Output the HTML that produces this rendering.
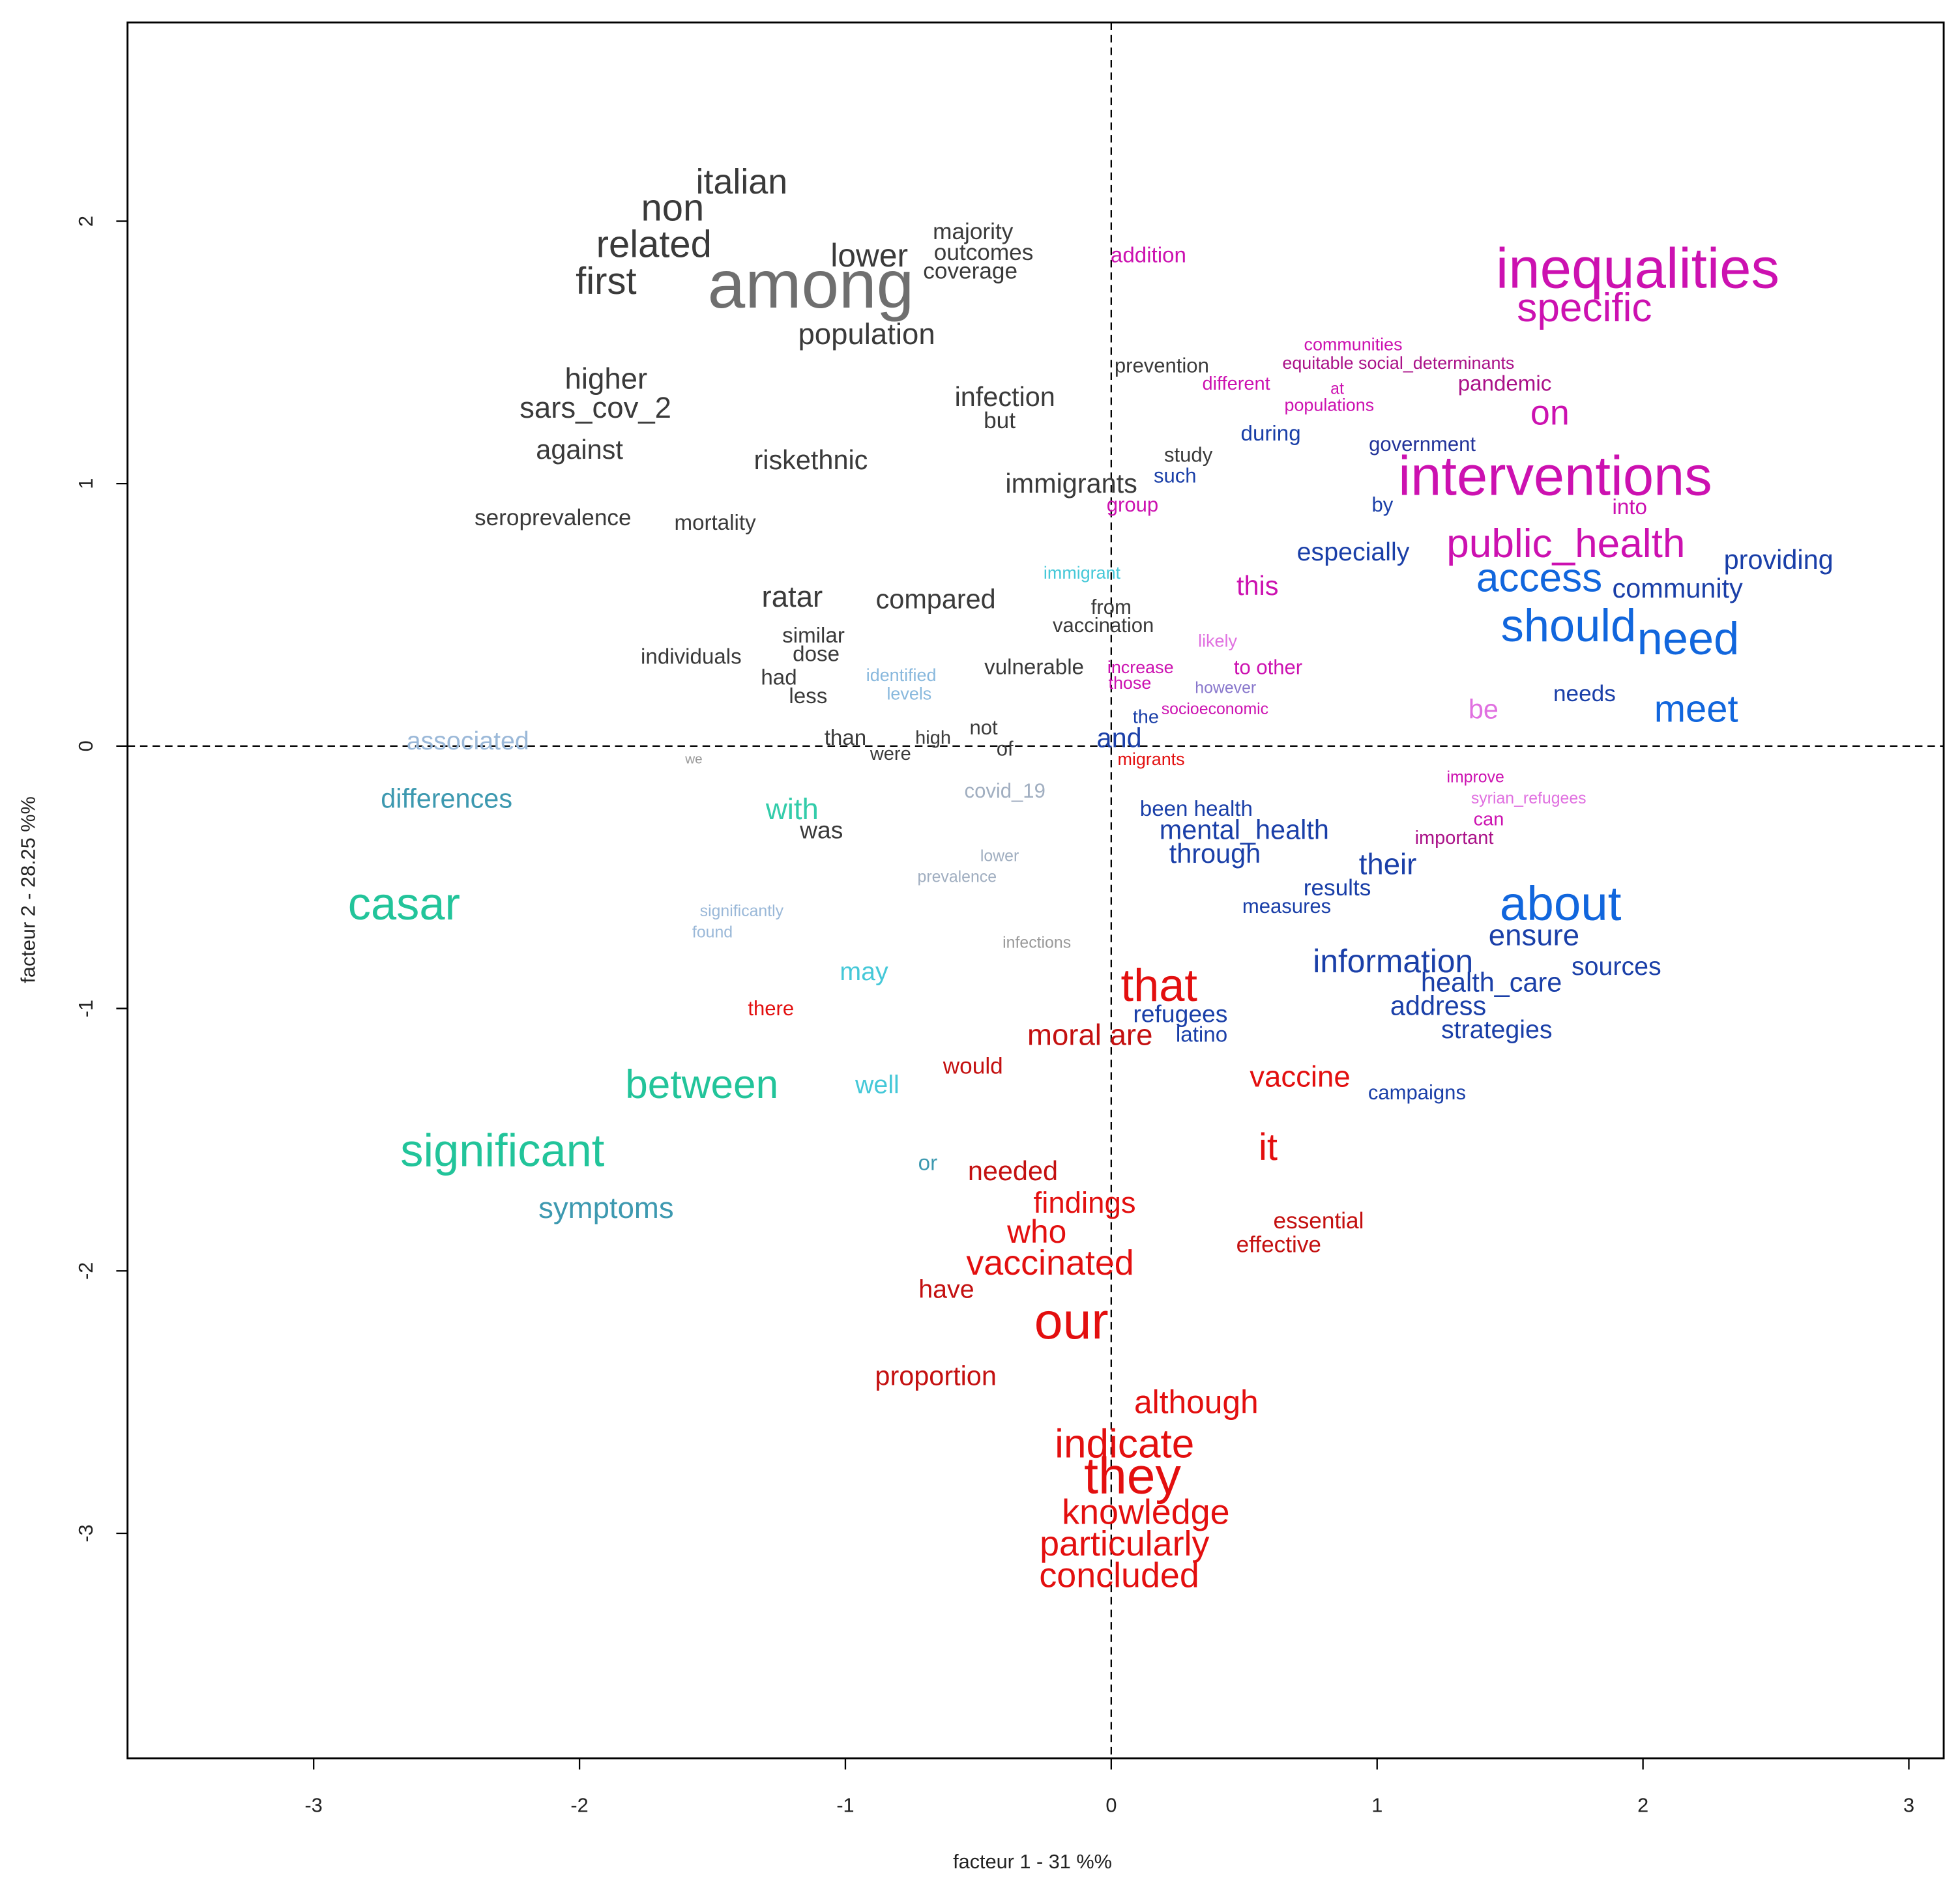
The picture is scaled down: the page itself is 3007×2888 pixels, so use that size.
<!DOCTYPE html>
<html><head><meta charset="utf-8">
<style>
html,body{margin:0;padding:0;background:#fff;}
svg{display:block;font-family:"Liberation Sans",Arial,sans-serif;}
</style></head>
<body>
<svg id="chart" width="3007" height="2888" viewBox="0 0 1568 1506" xmlns="http://www.w3.org/2000/svg">
<rect x="102" y="18" width="1453" height="1389" fill="#fff" stroke="#000" stroke-width="1.5"/>
<g id="axes"></g>
<g id="marks"></g>
<text x="826" y="1495" font-size="16" text-anchor="middle" fill="#222">facteur  1  - 31 %%</text>
<text x="28" y="712" font-size="16" text-anchor="middle" fill="#222" transform="rotate(-90 28 712)">facteur  2  - 28.25 %%</text>
</svg>
<script>
const words = ["italian","non","related","first","among","lower","majority","outcomes","coverage","population","higher","sars_cov_2","against","infection","but","riskethnic","prevention","study","immigrants","seroprevalence","mortality","ratar","compared","similar","dose","individuals","had","less","vulnerable","from","vaccination","than","high","not","were","of","was","we",
"addition","inequalities","specific","communities","equitable social_determinants","different","at","pandemic","populations","on","interventions","into","group","public_health","this","likely","to other","increase","those","however","socioeconomic","be","improve","syrian_refugees","can","important",
"during","government","such","by","especially","providing","access","community","should","need","needs","meet","the","and","been health","mental_health","through","their","results","measures","about","ensure","information","sources","health_care","refugees","address","latino","strategies","campaigns",
"migrants","that","moral are","there","would","vaccine","it","needed","findings","who","essential","effective","vaccinated","have","our","proportion","although","indicate","they","knowledge","particularly","concluded",
"immigrant","identified","levels","associated","differences","with","covid_19","lower","prevalence","significantly","found","casar","may","infections","between","well","significant","or","symptoms"];
const xVals = [-1.39,-1.65,-1.72,-1.90,-1.13,-0.91,-0.52,-0.48,-0.53,-0.92,-1.90,-1.94,-2.00,-0.40,-0.42,-1.13,0.19,0.29,-0.15,-2.10,-1.49,-1.20,-0.66,-1.12,-1.11,-1.58,-1.25,-1.14,-0.29,0.00,-0.03,-1.00,-0.67,-0.48,-0.83,-0.40,-1.09,-1.57,
0.14,1.98,1.78,0.91,1.08,0.47,0.85,1.48,0.82,1.65,1.67,1.95,0.08,1.71,0.55,0.40,0.59,0.11,0.07,0.43,0.39,1.40,1.37,1.57,1.42,1.29,
0.60,1.17,0.24,1.02,0.91,2.51,1.61,2.13,1.72,2.17,1.78,2.20,0.13,0.03,0.32,0.50,0.39,1.04,0.85,0.66,1.69,1.59,1.06,1.90,1.43,0.26,1.23,0.34,1.45,1.15,
0.15,0.18,-0.08,-1.28,-0.52,0.71,0.59,-0.37,-0.10,-0.28,0.78,0.63,-0.23,-0.62,-0.15,-0.66,0.32,0.05,0.08,0.13,0.05,0.03,
-0.11,-0.79,-0.76,-2.42,-2.50,-1.20,-0.40,-0.42,-0.58,-1.39,-1.50,-2.66,-0.93,-0.28,-1.54,-0.88,-2.29,-0.69,-1.90];
const yVals = [2.15,2.05,1.91,1.77,1.76,1.87,1.96,1.88,1.81,1.57,1.40,1.29,1.13,1.33,1.24,1.09,1.45,1.11,1.00,0.87,0.85,0.57,0.56,0.42,0.35,0.34,0.26,0.19,0.30,0.53,0.46,0.03,0.03,0.07,-0.03,-0.01,-0.32,-0.05,
1.87,1.82,1.67,1.53,1.46,1.38,1.36,1.38,1.30,1.27,1.03,0.91,0.92,0.77,0.61,0.40,0.30,0.30,0.24,0.22,0.14,0.14,-0.12,-0.20,-0.28,-0.35,
1.19,1.15,1.03,0.92,0.74,0.71,0.64,0.60,0.46,0.41,0.20,0.14,0.11,0.03,-0.24,-0.32,-0.41,-0.45,-0.54,-0.61,-0.60,-0.72,-0.82,-0.84,-0.90,-1.02,-0.99,-1.10,-1.08,-1.32,
-0.05,-0.91,-1.10,-1.00,-1.22,-1.26,-1.53,-1.62,-1.74,-1.85,-1.81,-1.90,-1.97,-2.07,-2.19,-2.40,-2.50,-2.66,-2.78,-2.92,-3.04,-3.16,
0.66,0.27,0.20,0.02,-0.20,-0.24,-0.17,-0.42,-0.50,-0.63,-0.71,-0.60,-0.86,-0.75,-1.29,-1.29,-1.54,-1.59,-1.76];
const weights = [26,28,28,28,50,24,17,17,17,22,22,22,20,20,17,20,15,15,20,17,16,22,20,16,16,16,16,16,16,15,15,16,14,15,14,15,18,10,
16,42,30,13,13,14,12,16,13,26,41,16,15,30,20,13,15,13,13,12,12,20,12,12,14,14,
16,15,15,15,19,20,30,20,34,34,17,28,14,20,16,20,20,22,17,15,36,22,24,19,20,18,20,16,19,15,
13,34,22,15,17,22,28,20,22,24,17,17,26,19,38,20,24,30,38,26,26,26,
13,13,13,19,20,22,15,12,12,12,12,34,19,12,30,19,34,16,22];
const groups = [0,0,0,0,1,0,0,0,0,0,0,0,0,0,0,0,0,0,0,0,0,0,0,0,0,0,0,0,0,0,0,0,0,0,0,0,0,2,
3,3,3,3,4,3,3,4,3,3,3,3,3,3,3,5,3,3,3,6,3,5,3,5,3,4,
7,8,7,7,7,7,9,7,9,9,7,9,7,7,7,7,7,7,7,7,9,7,7,7,7,7,7,7,7,7,
10,10,11,10,11,10,10,11,10,10,11,11,10,11,10,11,10,10,10,10,10,10,
12,13,13,14,15,16,17,17,17,14,14,18,12,2,18,12,18,15,15];
const palette = ["#3a3a3a","#6f6f6f","#999999","#cc11b0","#aa1188","#e070e0","#8877cc","#1a3fa8","#223399","#1166dd","#e30f0f","#c41010","#45c8d8","#88b8dd","#9ab8d8","#3d99b0","#33ccaa","#a0aec0","#22c49a"];

const X0=889, XU=212.7, Y0=597, YU=210, FS=1.08;
const xs = v => X0 + v*XU;
const ys = v => Y0 - v*YU;
const NS="http://www.w3.org/2000/svg";
const axes=document.getElementById('axes'), marks=document.getElementById('marks');
const xTicks=[-3,-2,-1,0,1,2,3], yTicks=[-3,-2,-1,0,1,2];
function mk(tag, attrs, parent){const e=document.createElementNS(NS,tag);for(const k in attrs)e.setAttribute(k,attrs[k]);parent.appendChild(e);return e;}
xTicks.forEach(t=>{
  const l=mk('line',{x1:xs(t),x2:xs(t),y1:1407,y2:1416,stroke:'#000','stroke-width':1.2},axes);
  
  
  const tx=mk('text',{x:xs(t),y:1450,'font-size':16,'text-anchor':'middle',fill:'#222'},axes);
  tx.textContent=t;
  
  
});
yTicks.forEach(t=>{
  const l=mk('line',{x1:93,x2:102,y1:ys(t),y2:ys(t),stroke:'#000','stroke-width':1.2},axes);
  
  
  const tx=mk('text',{x:74,y:ys(t),'font-size':16,'text-anchor':'middle',fill:'#222',transform:`rotate(-90 74 ${ys(t)})`},axes);
  tx.textContent=t;
  
  
});
const vz=mk('line',{x1:xs(0),x2:xs(0),y1:18,y2:1407,stroke:'#000','stroke-width':1.2,'stroke-dasharray':'6,4'},axes);


const hz=mk('line',{x1:102,x2:1555,y1:ys(0),y2:ys(0),stroke:'#000','stroke-width':1.2,'stroke-dasharray':'6,4'},axes);


words.forEach((w,i)=>{
  const t=mk('text',{x:xs(xVals[i]),y:ys(yVals[i]),'font-size':weights[i]*FS,'text-anchor':'middle','dominant-baseline':'central',fill:palette[groups[i]]},marks);
  t.textContent=w;
  
  
});
</script>
</body></html>
